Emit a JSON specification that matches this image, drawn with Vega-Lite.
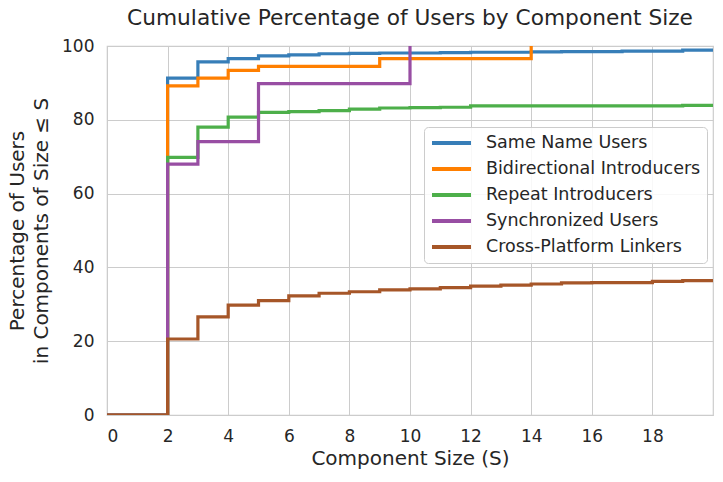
{
  "$schema": "https://vega.github.io/schema/vega-lite/v6.json",
  "width": 606,
  "height": 369,
  "autosize": "none",
  "padding": {"left": 107, "top": 46, "right": 10, "bottom": 67},
  "background": "white",
  "config": {
    "font": "DejaVu Sans",
    "view": {"stroke": "#cccccc", "strokeWidth": 1.2},
    "axis": {"gridColor": "#cccccc", "gridWidth": 1, "domain": false, "ticks": false, "labelFontSize": 17, "labelColor": "#262626", "titleFontSize": 20, "titleColor": "#262626", "titleFontWeight": "normal"}
  },
  "title": {"text": "Cumulative Percentage of Users by Component Size", "fontSize": 21.7, "fontWeight": "normal", "color": "#262626", "offset": 7, "anchor": "middle"},
  "data": {"values": [
    {"series": "Same Name Users", "size": 0, "pct": 0},
    {"series": "Same Name Users", "size": 2, "pct": 91.3},
    {"series": "Same Name Users", "size": 3, "pct": 95.7},
    {"series": "Same Name Users", "size": 4, "pct": 96.6},
    {"series": "Same Name Users", "size": 5, "pct": 97.3},
    {"series": "Same Name Users", "size": 6, "pct": 97.6},
    {"series": "Same Name Users", "size": 7, "pct": 97.9},
    {"series": "Same Name Users", "size": 8, "pct": 98.0},
    {"series": "Same Name Users", "size": 9, "pct": 98.1},
    {"series": "Same Name Users", "size": 10, "pct": 98.1},
    {"series": "Same Name Users", "size": 11, "pct": 98.2},
    {"series": "Same Name Users", "size": 12, "pct": 98.3},
    {"series": "Same Name Users", "size": 13, "pct": 98.3},
    {"series": "Same Name Users", "size": 14, "pct": 98.4},
    {"series": "Same Name Users", "size": 15, "pct": 98.5},
    {"series": "Same Name Users", "size": 16, "pct": 98.5},
    {"series": "Same Name Users", "size": 17, "pct": 98.6},
    {"series": "Same Name Users", "size": 18, "pct": 98.6},
    {"series": "Same Name Users", "size": 19, "pct": 98.9},
    {"series": "Same Name Users", "size": 20, "pct": 98.9},
    {"series": "Bidirectional Introducers", "size": 0, "pct": 0},
    {"series": "Bidirectional Introducers", "size": 2, "pct": 89.2},
    {"series": "Bidirectional Introducers", "size": 3, "pct": 91.3},
    {"series": "Bidirectional Introducers", "size": 4, "pct": 93.4},
    {"series": "Bidirectional Introducers", "size": 5, "pct": 94.5},
    {"series": "Bidirectional Introducers", "size": 6, "pct": 94.5},
    {"series": "Bidirectional Introducers", "size": 7, "pct": 94.5},
    {"series": "Bidirectional Introducers", "size": 8, "pct": 94.5},
    {"series": "Bidirectional Introducers", "size": 9, "pct": 96.6},
    {"series": "Bidirectional Introducers", "size": 10, "pct": 96.6},
    {"series": "Bidirectional Introducers", "size": 11, "pct": 96.6},
    {"series": "Bidirectional Introducers", "size": 12, "pct": 96.6},
    {"series": "Bidirectional Introducers", "size": 13, "pct": 96.6},
    {"series": "Bidirectional Introducers", "size": 14, "pct": 100},
    {"series": "Repeat Introducers", "size": 0, "pct": 0},
    {"series": "Repeat Introducers", "size": 2, "pct": 69.8},
    {"series": "Repeat Introducers", "size": 3, "pct": 78.0},
    {"series": "Repeat Introducers", "size": 4, "pct": 80.7},
    {"series": "Repeat Introducers", "size": 5, "pct": 82.0},
    {"series": "Repeat Introducers", "size": 6, "pct": 82.2},
    {"series": "Repeat Introducers", "size": 7, "pct": 82.5},
    {"series": "Repeat Introducers", "size": 8, "pct": 82.9},
    {"series": "Repeat Introducers", "size": 9, "pct": 83.2},
    {"series": "Repeat Introducers", "size": 10, "pct": 83.3},
    {"series": "Repeat Introducers", "size": 11, "pct": 83.4},
    {"series": "Repeat Introducers", "size": 12, "pct": 83.8},
    {"series": "Repeat Introducers", "size": 13, "pct": 83.8},
    {"series": "Repeat Introducers", "size": 14, "pct": 83.8},
    {"series": "Repeat Introducers", "size": 15, "pct": 83.8},
    {"series": "Repeat Introducers", "size": 16, "pct": 83.8},
    {"series": "Repeat Introducers", "size": 17, "pct": 83.8},
    {"series": "Repeat Introducers", "size": 18, "pct": 83.8},
    {"series": "Repeat Introducers", "size": 19, "pct": 83.9},
    {"series": "Repeat Introducers", "size": 20, "pct": 83.9},
    {"series": "Synchronized Users", "size": 0, "pct": 0},
    {"series": "Synchronized Users", "size": 2, "pct": 68.0},
    {"series": "Synchronized Users", "size": 3, "pct": 74.1},
    {"series": "Synchronized Users", "size": 4, "pct": 74.1},
    {"series": "Synchronized Users", "size": 5, "pct": 89.8},
    {"series": "Synchronized Users", "size": 6, "pct": 89.8},
    {"series": "Synchronized Users", "size": 7, "pct": 89.8},
    {"series": "Synchronized Users", "size": 8, "pct": 89.8},
    {"series": "Synchronized Users", "size": 9, "pct": 89.8},
    {"series": "Synchronized Users", "size": 10, "pct": 100},
    {"series": "Cross-Platform Linkers", "size": 0, "pct": 0},
    {"series": "Cross-Platform Linkers", "size": 2, "pct": 20.6},
    {"series": "Cross-Platform Linkers", "size": 3, "pct": 26.6},
    {"series": "Cross-Platform Linkers", "size": 4, "pct": 29.8},
    {"series": "Cross-Platform Linkers", "size": 5, "pct": 31.0},
    {"series": "Cross-Platform Linkers", "size": 6, "pct": 32.3},
    {"series": "Cross-Platform Linkers", "size": 7, "pct": 33.0},
    {"series": "Cross-Platform Linkers", "size": 8, "pct": 33.4},
    {"series": "Cross-Platform Linkers", "size": 9, "pct": 33.9},
    {"series": "Cross-Platform Linkers", "size": 10, "pct": 34.2},
    {"series": "Cross-Platform Linkers", "size": 11, "pct": 34.5},
    {"series": "Cross-Platform Linkers", "size": 12, "pct": 34.9},
    {"series": "Cross-Platform Linkers", "size": 13, "pct": 35.2},
    {"series": "Cross-Platform Linkers", "size": 14, "pct": 35.5},
    {"series": "Cross-Platform Linkers", "size": 15, "pct": 35.8},
    {"series": "Cross-Platform Linkers", "size": 16, "pct": 35.9},
    {"series": "Cross-Platform Linkers", "size": 17, "pct": 35.9},
    {"series": "Cross-Platform Linkers", "size": 18, "pct": 36.2},
    {"series": "Cross-Platform Linkers", "size": 19, "pct": 36.4},
    {"series": "Cross-Platform Linkers", "size": 20, "pct": 36.4}
  ]},
  "mark": {"type": "line", "interpolate": "step-after", "strokeWidth": 3.2, "clip": true},
  "encoding": {
    "x": {"field": "size", "type": "quantitative", "title": "Component Size (S)",
      "scale": {"domain": [0, 20], "nice": false},
      "axis": {"values": [0, 2, 4, 6, 8, 10, 12, 14, 16, 18], "labelPadding": 13, "titlePadding": 4}},
    "y": {"field": "pct", "type": "quantitative", "title": ["Percentage of Users", "in Components of Size ≤ S"],
      "scale": {"domain": [0, 100], "nice": false},
      "axis": {"values": [0, 20, 40, 60, 80, 100], "labelPadding": 13, "titlePadding": 10, "titleLineHeight": 24}},
    "color": {"field": "series", "type": "nominal",
      "scale": {"domain": ["Same Name Users", "Bidirectional Introducers", "Repeat Introducers", "Synchronized Users", "Cross-Platform Linkers"],
        "range": ["#377eb8", "#ff7f00", "#4daf4a", "#984ea3", "#a65628"]},
      "legend": {"title": null, "orient": "none", "legendX": 317, "legendY": 81,
        "symbolType": "stroke", "symbolSize": 1521, "symbolStrokeWidth": 4, "clipHeight": 20,
        "labelFontSize": 17.5, "labelColor": "#262626", "rowPadding": 6,
        "fillColor": "rgba(255,255,255,0.85)", "strokeColor": "#cccccc", "cornerRadius": 4, "padding": 6, "labelOffset": 13, "labelLimit": 400}}
  }
}
